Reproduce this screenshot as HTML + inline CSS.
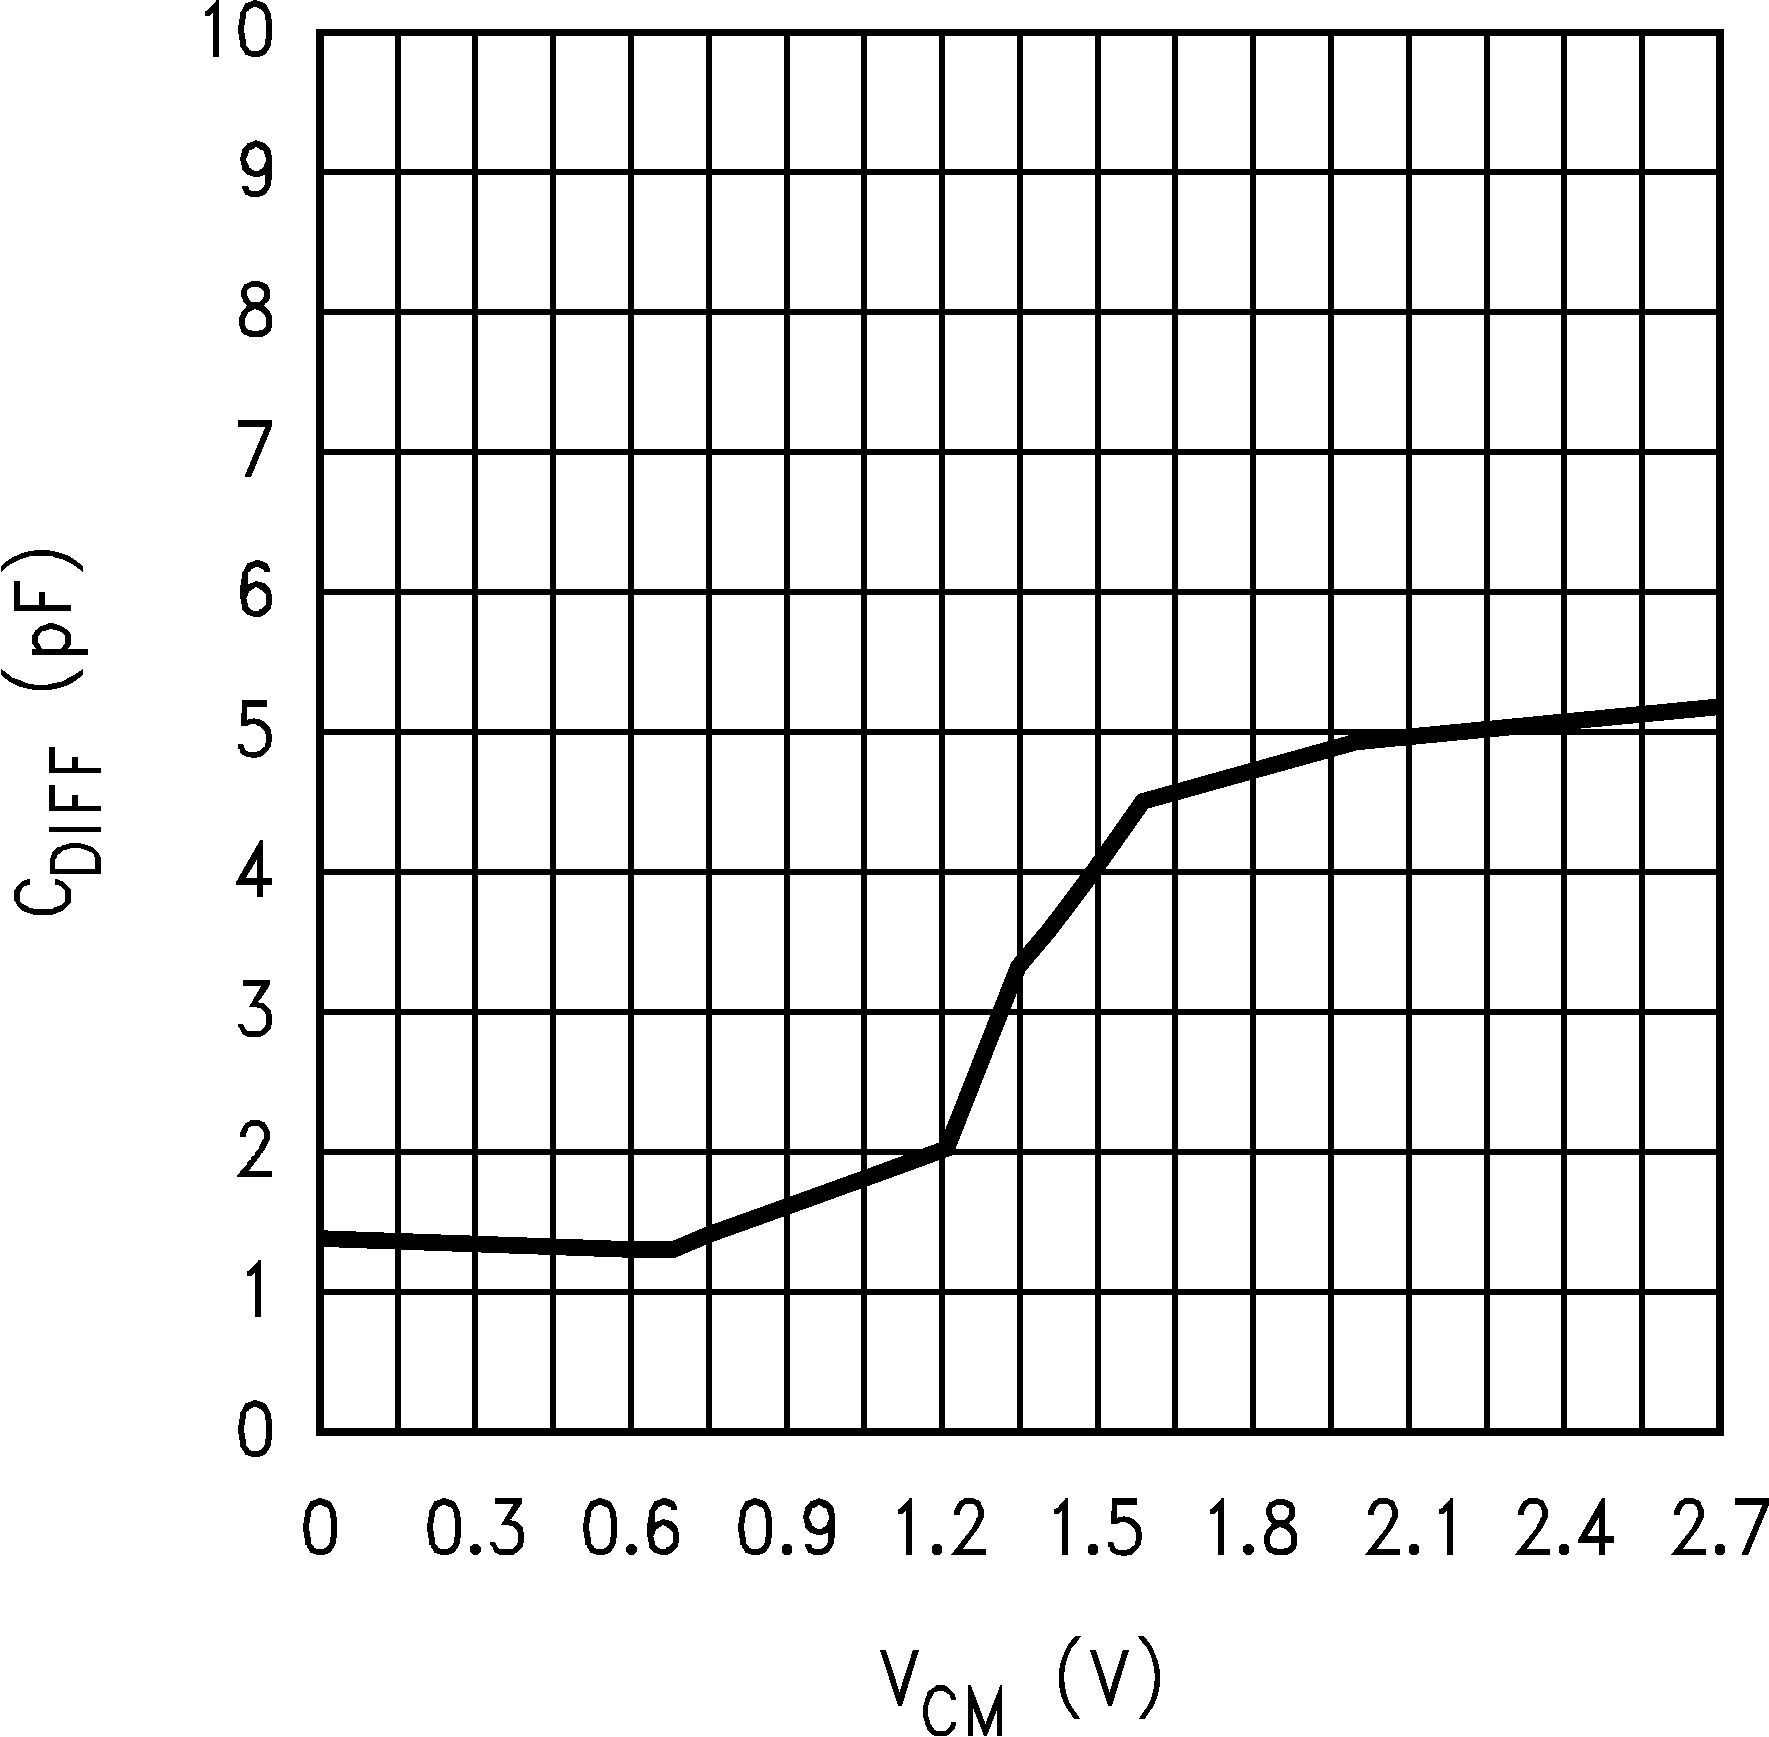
<!DOCTYPE html>
<html><head><meta charset="utf-8"><title>C_DIFF vs V_CM</title>
<style>html,body{margin:0;padding:0;background:#fff;font-family:"Liberation Sans",sans-serif}svg{display:block}</style>
</head><body>
<svg width="1769" height="1737" viewBox="0 0 1769 1737" shape-rendering="crispEdges">
<rect width="1769" height="1737" fill="#fff"/>
<g fill="#000"><rect x="395" y="30" width="6" height="1404"/><rect x="472" y="30" width="6" height="1404"/><rect x="550" y="30" width="6" height="1404"/><rect x="628" y="30" width="6" height="1404"/><rect x="706" y="30" width="6" height="1404"/><rect x="784" y="30" width="6" height="1404"/><rect x="861" y="30" width="6" height="1404"/><rect x="939" y="30" width="6" height="1404"/><rect x="1017" y="30" width="6" height="1404"/><rect x="1095" y="30" width="6" height="1404"/><rect x="1172" y="30" width="6" height="1404"/><rect x="1250" y="30" width="6" height="1404"/><rect x="1328" y="30" width="6" height="1404"/><rect x="1406" y="30" width="6" height="1404"/><rect x="1484" y="30" width="6" height="1404"/><rect x="1561" y="30" width="6" height="1404"/><rect x="1639" y="30" width="6" height="1404"/><rect x="318" y="169" width="1404" height="6"/><rect x="318" y="309" width="1404" height="6"/><rect x="318" y="449" width="1404" height="6"/><rect x="318" y="589" width="1404" height="6"/><rect x="318" y="729" width="1404" height="6"/><rect x="318" y="869" width="1404" height="6"/><rect x="318" y="1009" width="1404" height="6"/><rect x="318" y="1149" width="1404" height="6"/><rect x="318" y="1289" width="1404" height="6"/><rect x="316" y="29" width="1408" height="7"/><rect x="316" y="1428" width="1408" height="8"/><rect x="316" y="29" width="8" height="1407"/><rect x="1716" y="29" width="8" height="1407"/></g>
<polyline fill="none" stroke="#000" stroke-width="16.6" stroke-linejoin="miter" stroke-linecap="butt" points="319,1238.5 631,1249.5 673.5,1249.5 709,1234.5 784.1,1207.6 860.9,1179.85 946.7,1148.6 1018.5,966.5 1049.5,930 1092.8,872.5 1142.9,801.4 1356,742 1721,706.6"/>
<g fill="none" stroke="#000" stroke-linecap="square" stroke-linejoin="miter" stroke-miterlimit="2.6"></g>
<g transform="scale(0.83,1)" fill="none" stroke="#000" stroke-linecap="square" stroke-linejoin="miter" stroke-miterlimit="2.6"></g>
<g fill="#000"><polygon points="1075.2,1636 1072.05,1639.8 1068.9,1643.7 1066.9,1647.3 1064.1,1653.2 1062.2,1658 1061,1661.2 1059.9,1665.5 1059,1671.4 1058.8,1683.3 1059.8,1689.6 1061,1695.2 1062.2,1698.3 1064.1,1703.1 1066.1,1707.1 1069.7,1712.2 1074,1718.9 1080.1,1718.9 1076,1712.6 1072.05,1707.1 1068.9,1701.5 1066.9,1695.2 1065.2,1688.1 1063.9,1677 1065.2,1666.7 1066.9,1659.6 1068.9,1654 1072.05,1647.3 1076.8,1642.2 1081.15,1636"/><polygon points="1143.7,1636 1146.85,1639.8 1150,1643.7 1152,1647.3 1154.8,1653.2 1156.7,1658 1157.9,1661.2 1159,1665.5 1159.9,1671.4 1160.1,1683.3 1159.1,1689.6 1157.9,1695.2 1156.7,1698.3 1154.8,1703.1 1152.8,1707.1 1149.2,1712.2 1144.9,1718.9 1138.8,1718.9 1142.9,1712.6 1146.85,1707.1 1150,1701.5 1152,1695.2 1153.7,1688.1 1155,1677 1153.7,1666.7 1152,1659.6 1150,1654 1146.85,1647.3 1142.1,1642.2 1137.75,1636"/><polygon points="0.86,566.2 4.3,563 11.2,558.1 20.1,553.8 26.2,552 31.4,550.8 39.1,549.9 44,549.9 52.7,550.8 57,552 66.8,555 72.5,558.1 76.6,561 83.07,566.2 83.07,573.1 82,571.4 77.1,567.6 72.8,564.2 67.9,562.2 61.9,559 56.1,557.8 50.7,555.7 33.4,555.7 28.2,556.7 21.3,558.9 14.1,562.2 8.6,565.6 3.5,569.6 0.86,573.1"/><polygon points="0.86,674.8 4,677.4 11.2,682.9 20.1,686.9 28.2,688.9 33.4,689.8 50.7,689.8 55.8,688.9 63.6,686.9 72.5,682.9 76.6,680 83.07,674.8 83.07,668.8 74.3,674.8 68.2,678 61.9,681.7 54.1,682.9 46.1,684.9 36,684.9 29.9,683.8 25.3,682.9 19,679.7 12.1,677.7 5.8,672 0.86,668.8"/></g>
<g fill="none" stroke="#000" stroke-linecap="square" stroke-linejoin="miter" stroke-miterlimit="2.6"></g>
<g transform="scale(1,0.82)" fill="none" stroke="#000" stroke-linecap="square" stroke-linejoin="miter" stroke-miterlimit="2.6"></g>
<g fill="#000"><path fill-rule="evenodd" d="M253.03 1400.02 L256.88 1400.02 L256.88 1400.98 L259.78 1400.98 L259.97 1401.94 L262.86 1401.94 L263.06 1402.91 L264.79 1403.1 L266.92 1405.22 L267.11 1406.96 L268.07 1407.15 L268.07 1409.08 L269.04 1409.27 L269.04 1411.01 L270 1411.2 L270 1413.13 L270.97 1413.33 L270.97 1418.92 L271.93 1419.11 L271.93 1439.95 L270.97 1439.95 L270.97 1445.73 L270 1445.93 L270 1447.85 L269.04 1447.85 L269.04 1449.78 L268.07 1449.78 L266.92 1451.91 L266.92 1452.87 L265.95 1452.87 L264.79 1454.8 L262.86 1454.99 L262.86 1455.96 L259.78 1455.96 L259.78 1456.92 L251.1 1456.92 L251.1 1455.96 L248.01 1455.96 L248.01 1454.99 L245.12 1454.99 L245.12 1452.87 L244.15 1452.87 L243.96 1450.94 L242.03 1449.78 L242.03 1447.85 L240.1 1446.7 L240.1 1439.95 L239.14 1439.75 L239.14 1433.77 L237.98 1433.77 L237.98 1425.09 L239.14 1424.9 L239.14 1419.11 L240.1 1418.92 L240.1 1412.17 L242.03 1411.01 L242.03 1409.08 L243 1408.89 L243 1407.15 L243.96 1406.96 L244.15 1405.03 L245.12 1404.84 L245.12 1403.1 L248.01 1402.91 L248.2 1401.94 L251.1 1401.94 L251.1 1400.98 L253.03 1400.98Z M253.03 1406.96 L256.88 1406.96 L257.08 1407.92 L259.01 1408.12 L259.01 1408.89 L260.94 1409.08 L264.02 1412.17 L264.02 1413.9 L264.99 1414.1 L264.99 1419.69 L266.14 1420.08 L266.14 1438.98 L265.18 1439.17 L264.99 1444.77 L264.02 1444.96 L264.02 1446.7 L260.94 1449.78 L259.01 1449.98 L258.81 1450.94 L251.1 1450.94 L250.9 1449.98 L248.98 1449.78 L248.98 1448.82 L245.89 1445.73 L245.89 1438.98 L244.92 1438.79 L244.92 1433.39 L243.96 1433.19 L243.96 1424.9 L244.92 1424.71 L244.92 1418.92 L245.89 1418.73 L245.89 1413.13 L248.98 1410.05 L248.98 1408.89 L250.9 1408.7 L251.1 1407.92 L253.03 1407.92Z"/><path fill-rule="evenodd" d="M258 1259.96 L261 1259.96 L261 1316.96 L255 1316.96 L255 1272.66 L252.8 1274.86 L250.8 1275.96 L246.95 1275.96 L246.95 1270.96 L248.9 1270.96 L251 1268.96 L258 1261.16Z"/><path fill-rule="evenodd" d="M240.1 1136.99 L240.1 1132.17 L241.07 1131.98 L241.07 1130.05 L242.03 1129.85 L242.03 1128.12 L243 1127.92 L243 1126.19 L244.92 1124.45 L245.12 1123.1 L247.05 1122.91 L247.24 1121.94 L248.98 1121.94 L250.13 1120.02 L259.78 1120.02 L259.97 1120.98 L261.9 1120.98 L262.09 1121.94 L264.02 1121.94 L266.92 1125.22 L267.11 1126.96 L268.07 1127.15 L268.07 1129.08 L269.04 1129.27 L269.04 1131.01 L270 1131.2 L270 1139.69 L269.04 1139.88 L269.04 1141.81 L268.07 1142.01 L268.07 1143.74 L267.11 1143.94 L266.92 1145.86 L265.95 1146.06 L265.95 1147.79 L264.99 1147.99 L264.99 1149.72 L262.86 1150.88 L262.86 1152.81 L260.94 1153.77 L259.78 1155.9 L259.78 1156.86 L256.88 1158.98 L256.88 1160.91 L254.18 1162.84 L253.99 1164.77 L251.1 1166.89 L250.9 1168.82 L248.78 1170.94 L271.93 1170.94 L271.93 1176.92 L237.02 1176.92 L237.02 1175.96 L239.91 1172.87 L240.1 1171.91 L243.96 1167.85 L244.15 1166.89 L247.05 1164 L247.05 1162.84 L251.1 1158.98 L251.1 1157.82 L255.15 1153.97 L255.15 1152.81 L258.04 1149.92 L258.23 1148.95 L259.01 1147.99 L259.2 1146.64 L259.97 1145.86 L260.16 1144.71 L260.94 1143.94 L261.13 1142.78 L261.9 1142.01 L262.09 1140.66 L263.06 1139.69 L263.06 1138.73 L264.02 1138.53 L264.02 1131.98 L263.06 1131.78 L262.86 1130.05 L258.81 1126 L251.1 1126 L247.82 1129.08 L247.82 1130.82 L246.85 1131.01 L246.85 1132.94 L245.89 1133.13 L245.89 1136.99Z"/><path fill-rule="evenodd" d="M243 980.02 L270 980.02 L270 984.45 L268.07 987.73 L265.95 990.82 L264.02 993.9 L261.9 996.99 L259.97 1000.08 L257.85 1001.62 L259.97 1002.78 L262.86 1002.97 L264.79 1003.94 L270.97 1010.11 L271.16 1013.97 L271.93 1014.35 L271.93 1024.77 L270.97 1024.96 L270.97 1028.63 L264.79 1034.8 L262.86 1035.76 L260.74 1036.92 L248.2 1036.92 L246.08 1035.96 L243.19 1034.8 L241.07 1031.71 L240.1 1028.82 L237.98 1026.7 L237.98 1024 L242.8 1024 L243.77 1025.15 L244.73 1027.85 L247.24 1030.94 L260.74 1030.94 L265.18 1026.7 L265.18 1024.77 L266.14 1024.38 L266.14 1014.16 L265.18 1013.77 L264.79 1012.04 L260.74 1007.99 L257.08 1007.99 L256.69 1006.83 L248.98 1006.83 L250.13 1004.32 L252.06 1002.01 L253.22 999.11 L255.15 996.6 L257.08 993.13 L258.23 991.2 L260.16 988.12 L261.13 986 L243 986Z"/><path fill-rule="evenodd" d="M260.1 839.98 L263 839.98 L263 878.03 L272.1 878.03 L272.1 884.94 L263 884.94 L263 896.86 L257 896.86 L257 884.94 L235.95 884.94 L235.95 882.46Z M257 859.7 L257 878.03 L245.6 878.03Z"/><path fill-rule="evenodd" d="M242.03 700.02 L266.92 700.02 L266.92 706.96 L246.85 706.96 L246.85 720.27 L248.2 719.11 L253.03 719.11 L253.03 717.96 L254.96 717.96 L254.96 719.11 L258.81 719.11 L260.74 720.08 L262.86 720.85 L264.99 722.01 L265.95 723.74 L268.07 724.9 L269.23 727.02 L270.19 727.99 L270.97 730.11 L271.16 733.97 L271.93 734.35 L271.93 741.88 L270.97 742.07 L270.97 746.7 L269.04 747.85 L268.84 749.78 L262.86 755.76 L260.74 756.92 L256.88 757.11 L256.88 757.89 L251.1 757.89 L251.1 756.92 L247.24 756.92 L245.12 755.96 L243.19 754.99 L241.07 754.03 L240.1 752.87 L240.1 749.78 L237.98 748.63 L237.98 744 L242.8 744 L243.77 745.15 L243.77 747.85 L244.92 748.43 L245.12 749.78 L247.05 750.94 L248.98 752.1 L256.88 752.1 L257.08 750.94 L259.78 750.94 L265.18 745.93 L265.18 742.84 L266.14 742.65 L266.14 734.16 L265.18 733.77 L264.99 731.07 L262.86 729.34 L259.78 725.86 L258.23 725.86 L255.92 724.9 L255.92 723.74 L250.13 723.74 L249.94 724.9 L248.01 724.9 L247.82 725.86 L241.07 725.86 L241.07 712.94 L242.03 712.94Z"/><path fill-rule="evenodd" d="M270 571.78 L270 568.31 L269.04 568.12 L269.04 566.19 L268.07 566 L268.07 564.26 L266.92 564.07 L266.92 563.1 L264.99 562.91 L264.79 561.94 L262.86 561.94 L262.67 560.98 L259.78 560.98 L259.78 560.02 L255.15 560.02 L255.15 560.98 L253.03 560.98 L253.03 561.94 L250.13 561.94 L249.94 563.1 L247.05 563.1 L247.05 565.03 L246.08 565.22 L246.08 567.15 L245.12 567.15 L244.92 569.08 L244.15 569.08 L243.96 571.01 L243 571.2 L242.03 572.17 L242.03 578.92 L241.07 579.11 L241.07 584.9 L240.1 585.09 L240.1 598.79 L241.07 598.98 L241.07 603.8 L242.03 604 L242.03 609.78 L247.05 614.8 L249.94 614.99 L250.13 615.96 L253.03 615.96 L253.22 616.92 L260.74 616.92 L260.94 615.96 L262.86 615.76 L262.86 614.99 L264.79 614.8 L270.97 608.63 L270.97 604.96 L271.93 604.77 L271.93 594.35 L270.97 594.16 L270.97 590.11 L270 589.92 L270 588.18 L264.79 582.97 L261.9 582.78 L261.71 582.01 L257.85 581.81 L257.85 580.85 L255.15 580.85 L254.96 581.81 L253.03 582.01 L253.03 582.97 L250.13 582.97 L249.94 583.94 L247.82 583.94 L247.82 573.13 L248.98 571.98 L249.94 571.78 L250.9 570.82 L250.9 569.08 L253.03 568.89 L253.03 567.92 L254.96 567.73 L255.15 566.96 L258.81 566.96 L259.01 567.92 L260.94 568.12 L261.13 568.89 L262.86 569.08 L264.02 570.05 L264.02 571.78Z M255.92 586.83 L257.08 587.02 L257.08 587.99 L258.81 588.18 L259.78 588.95 L259.97 589.92 L261.9 590.11 L266.14 594.35 L266.14 604.77 L261.9 608.82 L259.97 609.01 L258.81 609.98 L258.81 610.94 L253.22 610.94 L253.03 609.98 L251.1 609.78 L248.01 606.7 L248.01 603.03 L247.05 602.84 L246.85 598.98 L245.89 598.79 L245.89 597.82 L246.85 597.63 L247.05 595.9 L247.82 595.7 L248.01 593 L248.98 592.81 L248.98 591.07 L250.9 590.88 L252.06 588.95 L253.99 588.76 L255.15 586.83Z"/><path fill-rule="evenodd" d="M238 420 L272.1 420 L272.1 426 L251.1 476.86 L244.9 476.86 L244.9 475.6 L265.3 426.9 L238 426.9Z"/><path fill-rule="evenodd" d="M251.1 280.98 L259.78 280.98 L259.97 281.94 L262.86 281.94 L263.06 282.91 L264.99 283.1 L265.18 284.07 L266.92 284.07 L268.07 285.22 L268.07 286.96 L269.04 287.15 L269.04 289.08 L270 289.27 L270 298.73 L269.04 298.92 L269.04 300.66 L267.88 300.85 L266.92 302.78 L265.95 302.78 L263.83 305.48 L270 311.27 L270 313.19 L270.97 313.39 L270.97 315.12 L271.93 315.32 L271.93 327.66 L270.97 327.85 L270.97 330.75 L266.92 334.8 L264.99 334.99 L264.99 335.96 L262.86 335.96 L262.86 336.92 L249.17 336.92 L248.98 335.96 L247.05 335.96 L246.85 334.99 L244.15 334.99 L241.07 331.71 L241.07 329.01 L240.1 328.82 L240.1 325.93 L239.14 325.73 L239.14 317.05 L240.1 316.86 L240.1 315.12 L241.07 314.93 L241.07 312.23 L245.89 307.79 L246.08 306.06 L247.05 305.48 L243 301.81 L243 298.92 L242.03 298.73 L242.03 296.99 L241.07 296.8 L241.07 290.05 L242.03 289.85 L242.03 288.12 L243 287.92 L243 286.19 L243.96 286 L244.15 284.07 L247.05 284.07 L247.05 283.1 L248.98 282.91 L249.17 281.94 L251.1 281.94Z M251.1 286.96 L258.81 286.96 L259.01 287.92 L260.94 288.12 L264.02 291.01 L264.02 296.99 L263.06 297.18 L262.86 298.92 L259.78 301.81 L251.1 301.81 L248.98 299.69 L248.98 298.15 L248.01 297.96 L247.82 296.03 L246.85 295.83 L246.85 291.01 L250.13 287.92 L251.1 287.92Z M253.99 308.95 L255.92 308.95 L256.11 309.92 L258.81 309.92 L259.01 310.88 L260.94 311.07 L264.99 315.12 L265.18 316.86 L266.14 317.05 L266.14 326.7 L262.86 329.98 L259.01 329.98 L258.81 330.94 L252.06 330.94 L252.06 329.98 L248.01 329.98 L245.89 327.66 L245.89 326.7 L244.92 325.73 L244.92 317.82 L245.89 317.63 L246.08 315.9 L246.85 315.7 L247.05 313.97 L247.82 313.77 L248.01 312.04 L249.94 311.84 L250.13 310.88 L252.06 310.88 L252.25 309.92 L253.99 309.92Z"/><path fill-rule="evenodd" d="M254.96 140.02 L256.88 140.02 L256.88 140.98 L259.78 140.98 L259.97 141.94 L262.86 141.94 L262.86 142.91 L264.79 143.1 L270 148.31 L270 150.05 L270.97 150.24 L270.97 154.87 L271.93 155.06 L271.93 179.75 L270.97 179.95 L270.97 185.73 L270 185.93 L270 187.85 L269.04 187.85 L269.04 189.78 L268.07 189.78 L266.92 191.91 L266.92 192.87 L265.95 192.87 L264.79 194.8 L262.86 194.99 L262.86 195.96 L259.78 195.96 L259.78 196.92 L250.13 196.92 L250.13 195.96 L248.01 195.96 L248.01 194.99 L245.12 194.99 L245.12 192.87 L244.15 192.87 L243.96 190.94 L243 190.75 L243 189.01 L242.03 188.82 L242.03 185.93 L247.82 185.93 L248.98 187.08 L248.98 189.78 L250.9 189.98 L251.1 190.94 L258.81 190.94 L259.01 189.98 L260.94 189.78 L264.02 186.7 L264.02 184.96 L264.99 184.77 L264.99 174.74 L262.86 174.74 L262.86 175.7 L259.97 175.9 L259.78 176.86 L253.22 176.86 L253.03 175.9 L250.13 175.7 L249.94 174.93 L247.24 174.74 L242.03 169.72 L242.03 164.9 L241.07 164.9 L241.07 160.85 L240.1 160.66 L240.1 156.99 L241.07 156.8 L241.07 153.13 L242.03 152.94 L242.03 149.27 L247.05 144.45 L247.05 143.1 L249.94 142.91 L250.13 141.94 L253.03 141.94 L253.03 140.98 L254.96 140.98Z M255.92 146.77 L257.08 146.96 L257.08 147.92 L258.81 148.12 L259.97 149.85 L262.86 150.05 L264.02 151.01 L264.02 153.9 L264.99 154.1 L265.18 156.99 L266.14 157.18 L266.14 161.81 L265.18 162.01 L264.99 163.94 L264.02 164.13 L264.02 166.83 L261.9 168.95 L259.97 169.14 L258.81 170.11 L258.81 171.07 L254.18 171.07 L253.99 170.11 L252.06 169.92 L250.9 168.18 L248.98 167.99 L248.98 165.09 L248.01 164.9 L247.82 163.16 L246.85 162.97 L246.85 161.04 L245.89 160.85 L245.89 157.96 L246.85 157.76 L246.85 156.03 L247.82 155.83 L248.01 152.94 L248.98 152.75 L248.98 149.85 L252.06 149.85 L252.06 148.89 L253.99 148.7 L254.96 146.96Z"/><path fill-rule="evenodd" d="M216 -0.04 L219 -0.04 L219 56.96 L213 56.96 L213 12.66 L210.8 14.86 L208.8 15.96 L204.95 15.96 L204.95 10.96 L206.9 10.96 L209 8.96 L216 1.16Z"/><path fill-rule="evenodd" d="M253.03 0.02 L256.88 0.02 L256.88 0.98 L259.78 0.98 L259.97 1.94 L262.86 1.94 L263.06 2.91 L264.79 3.1 L266.92 5.22 L267.11 6.96 L268.07 7.15 L268.07 9.08 L269.04 9.27 L269.04 11.01 L270 11.2 L270 13.13 L270.97 13.33 L270.97 18.92 L271.93 19.11 L271.93 39.95 L270.97 39.95 L270.97 45.73 L270 45.93 L270 47.85 L269.04 47.85 L269.04 49.78 L268.07 49.78 L266.92 51.91 L266.92 52.87 L265.95 52.87 L264.79 54.8 L262.86 54.99 L262.86 55.96 L259.78 55.96 L259.78 56.92 L251.1 56.92 L251.1 55.96 L248.01 55.96 L248.01 54.99 L245.12 54.99 L245.12 52.87 L244.15 52.87 L243.96 50.94 L242.03 49.78 L242.03 47.85 L240.1 46.7 L240.1 39.95 L239.14 39.75 L239.14 33.77 L237.98 33.77 L237.98 25.09 L239.14 24.9 L239.14 19.11 L240.1 18.92 L240.1 12.17 L242.03 11.01 L242.03 9.08 L243 8.89 L243 7.15 L243.96 6.96 L244.15 5.03 L245.12 4.84 L245.12 3.1 L248.01 2.91 L248.2 1.94 L251.1 1.94 L251.1 0.98 L253.03 0.98Z M253.03 6.96 L256.88 6.96 L257.08 7.92 L259.01 8.12 L259.01 8.89 L260.94 9.08 L264.02 12.17 L264.02 13.9 L264.99 14.1 L264.99 19.69 L266.14 20.08 L266.14 38.98 L265.18 39.17 L264.99 44.77 L264.02 44.96 L264.02 46.7 L260.94 49.78 L259.01 49.98 L258.81 50.94 L251.1 50.94 L250.9 49.98 L248.98 49.78 L248.98 48.82 L245.89 45.73 L245.89 38.98 L244.92 38.79 L244.92 33.39 L243.96 33.19 L243.96 24.9 L244.92 24.71 L244.92 18.92 L245.89 18.73 L245.89 13.13 L248.98 10.05 L248.98 8.89 L250.9 8.7 L251.1 7.92 L253.03 7.92Z"/><path fill-rule="evenodd" d="M318.2 1498 L322.05 1498 L322.05 1498.96 L324.95 1498.96 L325.14 1499.92 L328.03 1499.92 L328.23 1500.89 L329.96 1501.08 L332.08 1503.2 L332.28 1504.94 L333.24 1505.13 L333.24 1507.06 L334.21 1507.25 L334.21 1508.99 L335.17 1509.18 L335.17 1511.11 L336.14 1511.31 L336.14 1516.9 L337.1 1517.09 L337.1 1537.93 L336.14 1537.93 L336.14 1543.71 L335.17 1543.91 L335.17 1545.83 L334.21 1545.83 L334.21 1547.76 L333.24 1547.76 L332.08 1549.89 L332.08 1550.85 L331.12 1550.85 L329.96 1552.78 L328.03 1552.97 L328.03 1553.94 L324.95 1553.94 L324.95 1554.9 L316.27 1554.9 L316.27 1553.94 L313.18 1553.94 L313.18 1552.97 L310.29 1552.97 L310.29 1550.85 L309.32 1550.85 L309.13 1548.92 L307.2 1547.76 L307.2 1545.83 L305.27 1544.68 L305.27 1537.93 L304.31 1537.73 L304.31 1531.75 L303.15 1531.75 L303.15 1523.07 L304.31 1522.88 L304.31 1517.09 L305.27 1516.9 L305.27 1510.15 L307.2 1508.99 L307.2 1507.06 L308.16 1506.87 L308.16 1505.13 L309.13 1504.94 L309.32 1503.01 L310.29 1502.82 L310.29 1501.08 L313.18 1500.89 L313.37 1499.92 L316.27 1499.92 L316.27 1498.96 L318.2 1498.96Z M318.2 1504.94 L322.05 1504.94 L322.25 1505.9 L324.18 1506.1 L324.18 1506.87 L326.1 1507.06 L329.19 1510.15 L329.19 1511.88 L330.16 1512.08 L330.16 1517.67 L331.31 1518.06 L331.31 1536.96 L330.35 1537.15 L330.16 1542.75 L329.19 1542.94 L329.19 1544.68 L326.1 1547.76 L324.18 1547.96 L323.98 1548.92 L316.27 1548.92 L316.07 1547.96 L314.14 1547.76 L314.14 1546.8 L311.06 1543.71 L311.06 1536.96 L310.09 1536.77 L310.09 1531.37 L309.13 1531.17 L309.13 1522.88 L310.09 1522.69 L310.09 1516.9 L311.06 1516.71 L311.06 1511.11 L314.14 1508.03 L314.14 1506.87 L316.07 1506.68 L316.27 1505.9 L318.2 1505.9Z"/><path fill-rule="evenodd" d="M442.2 1498 L446.05 1498 L446.05 1498.96 L448.95 1498.96 L449.14 1499.92 L452.03 1499.92 L452.23 1500.89 L453.96 1501.08 L456.08 1503.2 L456.28 1504.94 L457.24 1505.13 L457.24 1507.06 L458.21 1507.25 L458.21 1508.99 L459.17 1509.18 L459.17 1511.11 L460.14 1511.31 L460.14 1516.9 L461.1 1517.09 L461.1 1537.93 L460.14 1537.93 L460.14 1543.71 L459.17 1543.91 L459.17 1545.83 L458.21 1545.83 L458.21 1547.76 L457.24 1547.76 L456.08 1549.89 L456.08 1550.85 L455.12 1550.85 L453.96 1552.78 L452.03 1552.97 L452.03 1553.94 L448.95 1553.94 L448.95 1554.9 L440.27 1554.9 L440.27 1553.94 L437.18 1553.94 L437.18 1552.97 L434.29 1552.97 L434.29 1550.85 L433.32 1550.85 L433.13 1548.92 L431.2 1547.76 L431.2 1545.83 L429.27 1544.68 L429.27 1537.93 L428.31 1537.73 L428.31 1531.75 L427.15 1531.75 L427.15 1523.07 L428.31 1522.88 L428.31 1517.09 L429.27 1516.9 L429.27 1510.15 L431.2 1508.99 L431.2 1507.06 L432.16 1506.87 L432.16 1505.13 L433.13 1504.94 L433.32 1503.01 L434.29 1502.82 L434.29 1501.08 L437.18 1500.89 L437.37 1499.92 L440.27 1499.92 L440.27 1498.96 L442.2 1498.96Z M442.2 1504.94 L446.05 1504.94 L446.25 1505.9 L448.18 1506.1 L448.18 1506.87 L450.1 1507.06 L453.19 1510.15 L453.19 1511.88 L454.16 1512.08 L454.16 1517.67 L455.31 1518.06 L455.31 1536.96 L454.35 1537.15 L454.16 1542.75 L453.19 1542.94 L453.19 1544.68 L450.1 1547.76 L448.18 1547.96 L447.98 1548.92 L440.27 1548.92 L440.07 1547.96 L438.14 1547.76 L438.14 1546.8 L435.06 1543.71 L435.06 1536.96 L434.09 1536.77 L434.09 1531.37 L433.13 1531.17 L433.13 1522.88 L434.09 1522.69 L434.09 1516.9 L435.06 1516.71 L435.06 1511.11 L438.14 1508.03 L438.14 1506.87 L440.07 1506.68 L440.27 1505.9 L442.2 1505.9Z"/><path fill-rule="evenodd" d="M473.2 1543.95 L477.6 1543.95 L480.7 1546.88 L480.7 1552.07 L477.6 1555 L473.2 1555 L470.1 1552.07 L470.1 1546.88Z"/><path fill-rule="evenodd" d="M495.16 1498 L522.17 1498 L522.17 1502.43 L520.24 1505.71 L518.12 1508.8 L516.19 1511.88 L514.07 1514.97 L512.14 1518.06 L510.02 1519.6 L512.14 1520.76 L515.03 1520.95 L516.96 1521.92 L523.14 1528.09 L523.33 1531.95 L524.1 1532.33 L524.1 1542.75 L523.14 1542.94 L523.14 1546.61 L516.96 1552.78 L515.03 1553.74 L512.91 1554.9 L500.37 1554.9 L498.25 1553.94 L495.36 1552.78 L493.24 1549.69 L492.27 1546.8 L490.15 1544.68 L490.15 1541.98 L494.97 1541.98 L495.94 1543.13 L496.9 1545.83 L499.41 1548.92 L512.91 1548.92 L517.35 1544.68 L517.35 1542.75 L518.31 1542.36 L518.31 1532.14 L517.35 1531.75 L516.96 1530.02 L512.91 1525.97 L509.25 1525.97 L508.86 1524.81 L501.14 1524.81 L502.3 1522.3 L504.23 1519.99 L505.39 1517.09 L507.32 1514.58 L509.25 1511.11 L510.4 1509.18 L512.33 1506.1 L513.3 1503.98 L495.16 1503.98Z"/><path fill-rule="evenodd" d="M598.2 1498 L602.05 1498 L602.05 1498.96 L604.95 1498.96 L605.14 1499.92 L608.03 1499.92 L608.23 1500.89 L609.96 1501.08 L612.08 1503.2 L612.28 1504.94 L613.24 1505.13 L613.24 1507.06 L614.21 1507.25 L614.21 1508.99 L615.17 1509.18 L615.17 1511.11 L616.14 1511.31 L616.14 1516.9 L617.1 1517.09 L617.1 1537.93 L616.14 1537.93 L616.14 1543.71 L615.17 1543.91 L615.17 1545.83 L614.21 1545.83 L614.21 1547.76 L613.24 1547.76 L612.08 1549.89 L612.08 1550.85 L611.12 1550.85 L609.96 1552.78 L608.03 1552.97 L608.03 1553.94 L604.95 1553.94 L604.95 1554.9 L596.27 1554.9 L596.27 1553.94 L593.18 1553.94 L593.18 1552.97 L590.29 1552.97 L590.29 1550.85 L589.32 1550.85 L589.13 1548.92 L587.2 1547.76 L587.2 1545.83 L585.27 1544.68 L585.27 1537.93 L584.31 1537.73 L584.31 1531.75 L583.15 1531.75 L583.15 1523.07 L584.31 1522.88 L584.31 1517.09 L585.27 1516.9 L585.27 1510.15 L587.2 1508.99 L587.2 1507.06 L588.16 1506.87 L588.16 1505.13 L589.13 1504.94 L589.32 1503.01 L590.29 1502.82 L590.29 1501.08 L593.18 1500.89 L593.37 1499.92 L596.27 1499.92 L596.27 1498.96 L598.2 1498.96Z M598.2 1504.94 L602.05 1504.94 L602.25 1505.9 L604.18 1506.1 L604.18 1506.87 L606.1 1507.06 L609.19 1510.15 L609.19 1511.88 L610.16 1512.08 L610.16 1517.67 L611.31 1518.06 L611.31 1536.96 L610.35 1537.15 L610.16 1542.75 L609.19 1542.94 L609.19 1544.68 L606.1 1547.76 L604.18 1547.96 L603.98 1548.92 L596.27 1548.92 L596.07 1547.96 L594.14 1547.76 L594.14 1546.8 L591.06 1543.71 L591.06 1536.96 L590.09 1536.77 L590.09 1531.37 L589.13 1531.17 L589.13 1522.88 L590.09 1522.69 L590.09 1516.9 L591.06 1516.71 L591.06 1511.11 L594.14 1508.03 L594.14 1506.87 L596.07 1506.68 L596.27 1505.9 L598.2 1505.9Z"/><path fill-rule="evenodd" d="M629.35 1543.95 L633.75 1543.95 L636.85 1546.88 L636.85 1552.07 L633.75 1555 L629.35 1555 L626.25 1552.07 L626.25 1546.88Z"/><path fill-rule="evenodd" d="M677.12 1509.76 L677.12 1506.29 L676.16 1506.1 L676.16 1504.17 L675.19 1503.98 L675.19 1502.24 L674.03 1502.05 L674.03 1501.08 L672.11 1500.89 L671.91 1499.92 L669.98 1499.92 L669.79 1498.96 L666.9 1498.96 L666.9 1498 L662.27 1498 L662.27 1498.96 L660.15 1498.96 L660.15 1499.92 L657.25 1499.92 L657.06 1501.08 L654.17 1501.08 L654.17 1503.01 L653.2 1503.2 L653.2 1505.13 L652.24 1505.13 L652.04 1507.06 L651.27 1507.06 L651.08 1508.99 L650.11 1509.18 L649.15 1510.15 L649.15 1516.9 L648.19 1517.09 L648.19 1522.88 L647.22 1523.07 L647.22 1536.77 L648.19 1536.96 L648.19 1541.78 L649.15 1541.98 L649.15 1547.76 L654.17 1552.78 L657.06 1552.97 L657.25 1553.94 L660.15 1553.94 L660.34 1554.9 L667.86 1554.9 L668.05 1553.94 L669.98 1553.74 L669.98 1552.97 L671.91 1552.78 L678.09 1546.61 L678.09 1542.94 L679.05 1542.75 L679.05 1532.33 L678.09 1532.14 L678.09 1528.09 L677.12 1527.9 L677.12 1526.16 L671.91 1520.95 L669.02 1520.76 L668.83 1519.99 L664.97 1519.79 L664.97 1518.83 L662.27 1518.83 L662.07 1519.79 L660.15 1519.99 L660.15 1520.95 L657.25 1520.95 L657.06 1521.92 L654.94 1521.92 L654.94 1511.11 L656.09 1509.96 L657.06 1509.76 L658.02 1508.8 L658.02 1507.06 L660.15 1506.87 L660.15 1505.9 L662.07 1505.71 L662.27 1504.94 L665.93 1504.94 L666.13 1505.9 L668.05 1506.1 L668.25 1506.87 L669.98 1507.06 L671.14 1508.03 L671.14 1509.76Z M663.04 1524.81 L664.2 1525 L664.2 1525.97 L665.93 1526.16 L666.9 1526.93 L667.09 1527.9 L669.02 1528.09 L673.26 1532.33 L673.26 1542.75 L669.02 1546.8 L667.09 1546.99 L665.93 1547.96 L665.93 1548.92 L660.34 1548.92 L660.15 1547.96 L658.22 1547.76 L655.13 1544.68 L655.13 1541.01 L654.17 1540.82 L653.97 1536.96 L653.01 1536.77 L653.01 1535.8 L653.97 1535.61 L654.17 1533.88 L654.94 1533.68 L655.13 1530.98 L656.09 1530.79 L656.09 1529.05 L658.02 1528.86 L659.18 1526.93 L661.11 1526.74 L662.27 1524.81Z"/><path fill-rule="evenodd" d="M753.2 1498 L757.05 1498 L757.05 1498.96 L759.95 1498.96 L760.14 1499.92 L763.03 1499.92 L763.23 1500.89 L764.96 1501.08 L767.08 1503.2 L767.28 1504.94 L768.24 1505.13 L768.24 1507.06 L769.21 1507.25 L769.21 1508.99 L770.17 1509.18 L770.17 1511.11 L771.14 1511.31 L771.14 1516.9 L772.1 1517.09 L772.1 1537.93 L771.14 1537.93 L771.14 1543.71 L770.17 1543.91 L770.17 1545.83 L769.21 1545.83 L769.21 1547.76 L768.24 1547.76 L767.08 1549.89 L767.08 1550.85 L766.12 1550.85 L764.96 1552.78 L763.03 1552.97 L763.03 1553.94 L759.95 1553.94 L759.95 1554.9 L751.27 1554.9 L751.27 1553.94 L748.18 1553.94 L748.18 1552.97 L745.29 1552.97 L745.29 1550.85 L744.32 1550.85 L744.13 1548.92 L742.2 1547.76 L742.2 1545.83 L740.27 1544.68 L740.27 1537.93 L739.31 1537.73 L739.31 1531.75 L738.15 1531.75 L738.15 1523.07 L739.31 1522.88 L739.31 1517.09 L740.27 1516.9 L740.27 1510.15 L742.2 1508.99 L742.2 1507.06 L743.16 1506.87 L743.16 1505.13 L744.13 1504.94 L744.32 1503.01 L745.29 1502.82 L745.29 1501.08 L748.18 1500.89 L748.37 1499.92 L751.27 1499.92 L751.27 1498.96 L753.2 1498.96Z M753.2 1504.94 L757.05 1504.94 L757.25 1505.9 L759.18 1506.1 L759.18 1506.87 L761.1 1507.06 L764.19 1510.15 L764.19 1511.88 L765.16 1512.08 L765.16 1517.67 L766.31 1518.06 L766.31 1536.96 L765.35 1537.15 L765.16 1542.75 L764.19 1542.94 L764.19 1544.68 L761.1 1547.76 L759.18 1547.96 L758.98 1548.92 L751.27 1548.92 L751.07 1547.96 L749.14 1547.76 L749.14 1546.8 L746.06 1543.71 L746.06 1536.96 L745.09 1536.77 L745.09 1531.37 L744.13 1531.17 L744.13 1522.88 L745.09 1522.69 L745.09 1516.9 L746.06 1516.71 L746.06 1511.11 L749.14 1508.03 L749.14 1506.87 L751.07 1506.68 L751.27 1505.9 L753.2 1505.9Z"/><path fill-rule="evenodd" d="M784.85 1543.95 L789.25 1543.95 L792.35 1546.88 L792.35 1552.07 L789.25 1555 L784.85 1555 L781.75 1552.07 L781.75 1546.88Z"/><path fill-rule="evenodd" d="M818.02 1498 L819.95 1498 L819.95 1498.96 L822.85 1498.96 L823.04 1499.92 L825.93 1499.92 L825.93 1500.89 L827.86 1501.08 L833.07 1506.29 L833.07 1508.03 L834.04 1508.22 L834.04 1512.85 L835 1513.04 L835 1537.73 L834.04 1537.93 L834.04 1543.71 L833.07 1543.91 L833.07 1545.83 L832.11 1545.83 L832.11 1547.76 L831.14 1547.76 L829.98 1549.89 L829.98 1550.85 L829.02 1550.85 L827.86 1552.78 L825.93 1552.97 L825.93 1553.94 L822.85 1553.94 L822.85 1554.9 L813.2 1554.9 L813.2 1553.94 L811.08 1553.94 L811.08 1552.97 L808.19 1552.97 L808.19 1550.85 L807.22 1550.85 L807.03 1548.92 L806.06 1548.73 L806.06 1546.99 L805.1 1546.8 L805.1 1543.91 L810.89 1543.91 L812.04 1545.06 L812.04 1547.76 L813.97 1547.96 L814.17 1548.92 L821.88 1548.92 L822.08 1547.96 L824 1547.76 L827.09 1544.68 L827.09 1542.94 L828.06 1542.75 L828.06 1532.72 L825.93 1532.72 L825.93 1533.68 L823.04 1533.88 L822.85 1534.84 L816.29 1534.84 L816.1 1533.88 L813.2 1533.68 L813.01 1532.91 L810.31 1532.72 L805.1 1527.7 L805.1 1522.88 L804.14 1522.88 L804.14 1518.83 L803.17 1518.64 L803.17 1514.97 L804.14 1514.78 L804.14 1511.11 L805.1 1510.92 L805.1 1507.25 L810.12 1502.43 L810.12 1501.08 L813.01 1500.89 L813.2 1499.92 L816.1 1499.92 L816.1 1498.96 L818.02 1498.96Z M818.99 1504.75 L820.15 1504.94 L820.15 1505.9 L821.88 1506.1 L823.04 1507.83 L825.93 1508.03 L827.09 1508.99 L827.09 1511.88 L828.06 1512.08 L828.25 1514.97 L829.21 1515.16 L829.21 1519.79 L828.25 1519.99 L828.06 1521.92 L827.09 1522.11 L827.09 1524.81 L824.97 1526.93 L823.04 1527.12 L821.88 1528.09 L821.88 1529.05 L817.25 1529.05 L817.06 1528.09 L815.13 1527.9 L813.97 1526.16 L812.04 1525.97 L812.04 1523.07 L811.08 1522.88 L810.89 1521.14 L809.92 1520.95 L809.92 1519.02 L808.96 1518.83 L808.96 1515.94 L809.92 1515.74 L809.92 1514.01 L810.89 1513.81 L811.08 1510.92 L812.04 1510.73 L812.04 1507.83 L815.13 1507.83 L815.13 1506.87 L817.06 1506.68 L818.02 1504.94Z"/><path fill-rule="evenodd" d="M909 1498 L912 1498 L912 1555 L906 1555 L906 1510.7 L903.8 1512.9 L901.8 1514 L897.95 1514 L897.95 1509 L899.9 1509 L902 1507 L909 1499.2Z"/><path fill-rule="evenodd" d="M934.8 1543.95 L939.2 1543.95 L942.3 1546.88 L942.3 1552.07 L939.2 1555 L934.8 1555 L931.7 1552.07 L931.7 1546.88Z"/><path fill-rule="evenodd" d="M954.37 1514.97 L954.37 1510.15 L955.34 1509.96 L955.34 1508.03 L956.3 1507.83 L956.3 1506.1 L957.26 1505.9 L957.26 1504.17 L959.19 1502.43 L959.39 1501.08 L961.32 1500.89 L961.51 1499.92 L963.24 1499.92 L964.4 1498 L974.05 1498 L974.24 1498.96 L976.17 1498.96 L976.36 1499.92 L978.29 1499.92 L981.18 1503.2 L981.38 1504.94 L982.34 1505.13 L982.34 1507.06 L983.31 1507.25 L983.31 1508.99 L984.27 1509.18 L984.27 1517.67 L983.31 1517.86 L983.31 1519.79 L982.34 1519.99 L982.34 1521.72 L981.38 1521.92 L981.18 1523.84 L980.22 1524.04 L980.22 1525.77 L979.26 1525.97 L979.26 1527.7 L977.13 1528.86 L977.13 1530.79 L975.2 1531.75 L974.05 1533.88 L974.05 1534.84 L971.15 1536.96 L971.15 1538.89 L968.45 1540.82 L968.26 1542.75 L965.37 1544.87 L965.17 1546.8 L963.05 1548.92 L986.2 1548.92 L986.2 1554.9 L951.28 1554.9 L951.28 1553.94 L954.18 1550.85 L954.37 1549.89 L958.23 1545.83 L958.42 1544.87 L961.32 1541.98 L961.32 1540.82 L965.37 1536.96 L965.37 1535.8 L969.42 1531.95 L969.42 1530.79 L972.31 1527.9 L972.5 1526.93 L973.28 1525.97 L973.47 1524.62 L974.24 1523.84 L974.43 1522.69 L975.2 1521.92 L975.4 1520.76 L976.17 1519.99 L976.36 1518.64 L977.33 1517.67 L977.33 1516.71 L978.29 1516.51 L978.29 1509.96 L977.33 1509.76 L977.13 1508.03 L973.08 1503.98 L965.37 1503.98 L962.09 1507.06 L962.09 1508.8 L961.12 1508.99 L961.12 1510.92 L960.16 1511.11 L960.16 1514.97Z"/><path fill-rule="evenodd" d="M1065.08 1498 L1068.08 1498 L1068.08 1555 L1062.08 1555 L1062.08 1510.7 L1059.88 1512.9 L1057.88 1514 L1054.03 1514 L1054.03 1509 L1055.98 1509 L1058.08 1507 L1065.08 1499.2Z"/><path fill-rule="evenodd" d="M1090.8 1543.95 L1095.2 1543.95 L1098.3 1546.88 L1098.3 1552.07 L1095.2 1555 L1090.8 1555 L1087.7 1552.07 L1087.7 1546.88Z"/><path fill-rule="evenodd" d="M1112.1 1498 L1136.98 1498 L1136.98 1504.94 L1116.92 1504.94 L1116.92 1518.25 L1118.27 1517.09 L1123.1 1517.09 L1123.1 1515.94 L1125.02 1515.94 L1125.02 1517.09 L1128.88 1517.09 L1130.81 1518.06 L1132.93 1518.83 L1135.06 1519.99 L1136.02 1521.72 L1138.14 1522.88 L1139.3 1525 L1140.26 1525.97 L1141.04 1528.09 L1141.23 1531.95 L1142 1532.33 L1142 1539.86 L1141.04 1540.05 L1141.04 1544.68 L1139.11 1545.83 L1138.91 1547.76 L1132.93 1553.74 L1130.81 1554.9 L1126.95 1555.09 L1126.95 1555.87 L1121.17 1555.87 L1121.17 1554.9 L1117.31 1554.9 L1115.19 1553.94 L1113.26 1552.97 L1111.14 1552.01 L1110.17 1550.85 L1110.17 1547.76 L1108.05 1546.61 L1108.05 1541.98 L1112.87 1541.98 L1113.84 1543.13 L1113.84 1545.83 L1114.99 1546.41 L1115.19 1547.76 L1117.12 1548.92 L1119.04 1550.08 L1126.95 1550.08 L1127.15 1548.92 L1129.85 1548.92 L1135.25 1543.91 L1135.25 1540.82 L1136.21 1540.63 L1136.21 1532.14 L1135.25 1531.75 L1135.06 1529.05 L1132.93 1527.32 L1129.85 1523.84 L1128.3 1523.84 L1125.99 1522.88 L1125.99 1521.72 L1120.2 1521.72 L1120.01 1522.88 L1118.08 1522.88 L1117.89 1523.84 L1111.14 1523.84 L1111.14 1510.92 L1112.1 1510.92Z"/><path fill-rule="evenodd" d="M1221 1498 L1224 1498 L1224 1555 L1218 1555 L1218 1510.7 L1215.8 1512.9 L1213.8 1514 L1209.95 1514 L1209.95 1509 L1211.9 1509 L1214 1507 L1221 1499.2Z"/><path fill-rule="evenodd" d="M1246.2 1543.95 L1250.6 1543.95 L1253.7 1546.88 L1253.7 1552.07 L1250.6 1555 L1246.2 1555 L1243.1 1552.07 L1243.1 1546.88Z"/><path fill-rule="evenodd" d="M1276.17 1498.96 L1284.85 1498.96 L1285.04 1499.92 L1287.93 1499.92 L1288.13 1500.89 L1290.06 1501.08 L1290.25 1502.05 L1291.98 1502.05 L1293.14 1503.2 L1293.14 1504.94 L1294.11 1505.13 L1294.11 1507.06 L1295.07 1507.25 L1295.07 1516.71 L1294.11 1516.9 L1294.11 1518.64 L1292.95 1518.83 L1291.98 1520.76 L1291.02 1520.76 L1288.9 1523.46 L1295.07 1529.25 L1295.07 1531.17 L1296.04 1531.37 L1296.04 1533.1 L1297 1533.3 L1297 1545.64 L1296.04 1545.83 L1296.04 1548.73 L1291.98 1552.78 L1290.06 1552.97 L1290.06 1553.94 L1287.93 1553.94 L1287.93 1554.9 L1274.24 1554.9 L1274.04 1553.94 L1272.12 1553.94 L1271.92 1552.97 L1269.22 1552.97 L1266.14 1549.69 L1266.14 1546.99 L1265.17 1546.8 L1265.17 1543.91 L1264.21 1543.71 L1264.21 1535.03 L1265.17 1534.84 L1265.17 1533.1 L1266.14 1532.91 L1266.14 1530.21 L1270.96 1525.77 L1271.15 1524.04 L1272.12 1523.46 L1268.06 1519.79 L1268.06 1516.9 L1267.1 1516.71 L1267.1 1514.97 L1266.14 1514.78 L1266.14 1508.03 L1267.1 1507.83 L1267.1 1506.1 L1268.06 1505.9 L1268.06 1504.17 L1269.03 1503.98 L1269.22 1502.05 L1272.12 1502.05 L1272.12 1501.08 L1274.04 1500.89 L1274.24 1499.92 L1276.17 1499.92Z M1276.17 1504.94 L1283.88 1504.94 L1284.08 1505.9 L1286 1506.1 L1289.09 1508.99 L1289.09 1514.97 L1288.13 1515.16 L1287.93 1516.9 L1284.85 1519.79 L1276.17 1519.79 L1274.04 1517.67 L1274.04 1516.13 L1273.08 1515.94 L1272.89 1514.01 L1271.92 1513.81 L1271.92 1508.99 L1275.2 1505.9 L1276.17 1505.9Z M1279.06 1526.93 L1280.99 1526.93 L1281.18 1527.9 L1283.88 1527.9 L1284.08 1528.86 L1286 1529.05 L1290.06 1533.1 L1290.25 1534.84 L1291.21 1535.03 L1291.21 1544.68 L1287.93 1547.96 L1284.08 1547.96 L1283.88 1548.92 L1277.13 1548.92 L1277.13 1547.96 L1273.08 1547.96 L1270.96 1545.64 L1270.96 1544.68 L1269.99 1543.71 L1269.99 1535.8 L1270.96 1535.61 L1271.15 1533.88 L1271.92 1533.68 L1272.12 1531.95 L1272.89 1531.75 L1273.08 1530.02 L1275.01 1529.82 L1275.2 1528.86 L1277.13 1528.86 L1277.32 1527.9 L1279.06 1527.9Z"/><path fill-rule="evenodd" d="M1368.33 1514.97 L1368.33 1510.15 L1369.3 1509.96 L1369.3 1508.03 L1370.26 1507.83 L1370.26 1506.1 L1371.22 1505.9 L1371.22 1504.17 L1373.15 1502.43 L1373.35 1501.08 L1375.28 1500.89 L1375.47 1499.92 L1377.2 1499.92 L1378.36 1498 L1388.01 1498 L1388.2 1498.96 L1390.13 1498.96 L1390.32 1499.92 L1392.25 1499.92 L1395.14 1503.2 L1395.34 1504.94 L1396.3 1505.13 L1396.3 1507.06 L1397.27 1507.25 L1397.27 1508.99 L1398.23 1509.18 L1398.23 1517.67 L1397.27 1517.86 L1397.27 1519.79 L1396.3 1519.99 L1396.3 1521.72 L1395.34 1521.92 L1395.14 1523.84 L1394.18 1524.04 L1394.18 1525.77 L1393.22 1525.97 L1393.22 1527.7 L1391.09 1528.86 L1391.09 1530.79 L1389.16 1531.75 L1388.01 1533.88 L1388.01 1534.84 L1385.11 1536.96 L1385.11 1538.89 L1382.41 1540.82 L1382.22 1542.75 L1379.33 1544.87 L1379.13 1546.8 L1377.01 1548.92 L1400.16 1548.92 L1400.16 1554.9 L1365.24 1554.9 L1365.24 1553.94 L1368.14 1550.85 L1368.33 1549.89 L1372.19 1545.83 L1372.38 1544.87 L1375.28 1541.98 L1375.28 1540.82 L1379.33 1536.96 L1379.33 1535.8 L1383.38 1531.95 L1383.38 1530.79 L1386.27 1527.9 L1386.46 1526.93 L1387.24 1525.97 L1387.43 1524.62 L1388.2 1523.84 L1388.39 1522.69 L1389.16 1521.92 L1389.36 1520.76 L1390.13 1519.99 L1390.32 1518.64 L1391.29 1517.67 L1391.29 1516.71 L1392.25 1516.51 L1392.25 1509.96 L1391.29 1509.76 L1391.09 1508.03 L1387.04 1503.98 L1379.33 1503.98 L1376.05 1507.06 L1376.05 1508.8 L1375.08 1508.99 L1375.08 1510.92 L1374.12 1511.11 L1374.12 1514.97Z"/><path fill-rule="evenodd" d="M1411.8 1543.95 L1416.2 1543.95 L1419.3 1546.88 L1419.3 1552.07 L1416.2 1555 L1411.8 1555 L1408.7 1552.07 L1408.7 1546.88Z"/><path fill-rule="evenodd" d="M1450.05 1498 L1453.05 1498 L1453.05 1555 L1447.05 1555 L1447.05 1510.7 L1444.85 1512.9 L1442.85 1514 L1439 1514 L1439 1509 L1440.95 1509 L1443.05 1507 L1450.05 1499.2Z"/><path fill-rule="evenodd" d="M1518.27 1514.97 L1518.27 1510.15 L1519.24 1509.96 L1519.24 1508.03 L1520.2 1507.83 L1520.2 1506.1 L1521.16 1505.9 L1521.16 1504.17 L1523.09 1502.43 L1523.29 1501.08 L1525.22 1500.89 L1525.41 1499.92 L1527.14 1499.92 L1528.3 1498 L1537.95 1498 L1538.14 1498.96 L1540.07 1498.96 L1540.26 1499.92 L1542.19 1499.92 L1545.08 1503.2 L1545.28 1504.94 L1546.24 1505.13 L1546.24 1507.06 L1547.21 1507.25 L1547.21 1508.99 L1548.17 1509.18 L1548.17 1517.67 L1547.21 1517.86 L1547.21 1519.79 L1546.24 1519.99 L1546.24 1521.72 L1545.28 1521.92 L1545.08 1523.84 L1544.12 1524.04 L1544.12 1525.77 L1543.16 1525.97 L1543.16 1527.7 L1541.03 1528.86 L1541.03 1530.79 L1539.1 1531.75 L1537.95 1533.88 L1537.95 1534.84 L1535.05 1536.96 L1535.05 1538.89 L1532.35 1540.82 L1532.16 1542.75 L1529.27 1544.87 L1529.07 1546.8 L1526.95 1548.92 L1550.1 1548.92 L1550.1 1554.9 L1515.18 1554.9 L1515.18 1553.94 L1518.08 1550.85 L1518.27 1549.89 L1522.13 1545.83 L1522.32 1544.87 L1525.22 1541.98 L1525.22 1540.82 L1529.27 1536.96 L1529.27 1535.8 L1533.32 1531.95 L1533.32 1530.79 L1536.21 1527.9 L1536.4 1526.93 L1537.18 1525.97 L1537.37 1524.62 L1538.14 1523.84 L1538.33 1522.69 L1539.1 1521.92 L1539.3 1520.76 L1540.07 1519.99 L1540.26 1518.64 L1541.23 1517.67 L1541.23 1516.71 L1542.19 1516.51 L1542.19 1509.96 L1541.23 1509.76 L1541.03 1508.03 L1536.98 1503.98 L1529.27 1503.98 L1525.99 1507.06 L1525.99 1508.8 L1525.02 1508.99 L1525.02 1510.92 L1524.06 1511.11 L1524.06 1514.97Z"/><path fill-rule="evenodd" d="M1561.8 1543.95 L1566.2 1543.95 L1569.3 1546.88 L1569.3 1552.07 L1566.2 1555 L1561.8 1555 L1558.7 1552.07 L1558.7 1546.88Z"/><path fill-rule="evenodd" d="M1601.96 1497.98 L1604.86 1497.98 L1604.86 1536.03 L1613.96 1536.03 L1613.96 1542.94 L1604.86 1542.94 L1604.86 1554.86 L1598.86 1554.86 L1598.86 1542.94 L1577.81 1542.94 L1577.81 1540.46Z M1598.86 1517.7 L1598.86 1536.03 L1587.46 1536.03Z"/><path fill-rule="evenodd" d="M1674.37 1514.97 L1674.37 1510.15 L1675.34 1509.96 L1675.34 1508.03 L1676.3 1507.83 L1676.3 1506.1 L1677.26 1505.9 L1677.26 1504.17 L1679.19 1502.43 L1679.39 1501.08 L1681.32 1500.89 L1681.51 1499.92 L1683.24 1499.92 L1684.4 1498 L1694.05 1498 L1694.24 1498.96 L1696.17 1498.96 L1696.36 1499.92 L1698.29 1499.92 L1701.18 1503.2 L1701.38 1504.94 L1702.34 1505.13 L1702.34 1507.06 L1703.31 1507.25 L1703.31 1508.99 L1704.27 1509.18 L1704.27 1517.67 L1703.31 1517.86 L1703.31 1519.79 L1702.34 1519.99 L1702.34 1521.72 L1701.38 1521.92 L1701.18 1523.84 L1700.22 1524.04 L1700.22 1525.77 L1699.26 1525.97 L1699.26 1527.7 L1697.13 1528.86 L1697.13 1530.79 L1695.2 1531.75 L1694.05 1533.88 L1694.05 1534.84 L1691.15 1536.96 L1691.15 1538.89 L1688.45 1540.82 L1688.26 1542.75 L1685.37 1544.87 L1685.17 1546.8 L1683.05 1548.92 L1706.2 1548.92 L1706.2 1554.9 L1671.28 1554.9 L1671.28 1553.94 L1674.18 1550.85 L1674.37 1549.89 L1678.23 1545.83 L1678.42 1544.87 L1681.32 1541.98 L1681.32 1540.82 L1685.37 1536.96 L1685.37 1535.8 L1689.42 1531.95 L1689.42 1530.79 L1692.31 1527.9 L1692.5 1526.93 L1693.28 1525.97 L1693.47 1524.62 L1694.24 1523.84 L1694.43 1522.69 L1695.2 1521.92 L1695.4 1520.76 L1696.17 1519.99 L1696.36 1518.64 L1697.33 1517.67 L1697.33 1516.71 L1698.29 1516.51 L1698.29 1509.96 L1697.33 1509.76 L1697.13 1508.03 L1693.08 1503.98 L1685.37 1503.98 L1682.09 1507.06 L1682.09 1508.8 L1681.12 1508.99 L1681.12 1510.92 L1680.16 1511.11 L1680.16 1514.97Z"/><path fill-rule="evenodd" d="M1717.9 1543.95 L1722.3 1543.95 L1725.4 1546.88 L1725.4 1552.07 L1722.3 1555 L1717.9 1555 L1714.8 1552.07 L1714.8 1546.88Z"/><path fill-rule="evenodd" d="M1735.1 1498.04 L1769.2 1498.04 L1769.2 1504.04 L1748.2 1554.9 L1742 1554.9 L1742 1553.64 L1762.4 1504.94 L1735.1 1504.94Z"/><path fill-rule="evenodd" d="M879.93 1649.93 L885.98 1649.93 L899.5 1691.8 L912.96 1649.93 L919 1649.93 L901.95 1705.97 L898.07 1705.97Z"/><path fill-rule="evenodd" d="M1089.93 1649.93 L1095.98 1649.93 L1109.5 1691.8 L1122.96 1649.93 L1129 1649.93 L1111.95 1705.97 L1108.07 1705.97Z"/><path fill-rule="evenodd" d="M936.23 1684.96 L944.72 1684.96 L944.89 1685.98 L946.76 1685.98 L954.91 1694.47 L954.91 1697.02 L955.93 1697.19 L955.93 1699.91 L951.01 1699.91 L951.01 1698.04 L949.99 1697.87 L949.99 1694.98 L948.8 1693.96 L946.93 1693.79 L945.91 1691.93 L943.87 1691.76 L943.7 1690.91 L937.08 1690.91 L936.91 1691.76 L933.85 1691.93 L933.85 1693.79 L932.83 1693.96 L932.83 1695.83 L931.81 1696 L931.81 1697.87 L929.95 1698.89 L929.95 1701.78 L928.93 1701.95 L928.76 1704.83 L927.91 1705 L927.91 1716.89 L928.93 1717.06 L928.93 1719.95 L929.95 1720.12 L929.95 1723.86 L931.98 1725.04 L931.98 1726.91 L933.85 1728.1 L933.85 1729.97 L935.89 1730.14 L936.06 1730.99 L945.74 1730.99 L949.99 1726.91 L949.99 1724.88 L951.01 1724.71 L951.01 1721.99 L955.93 1721.99 L955.93 1725.89 L954.91 1726.06 L954.91 1728.78 L948.8 1734.9 L946.93 1735.07 L946.76 1735.91 L934.19 1735.91 L934.02 1734.9 L932.15 1734.9 L926.89 1729.8 L926.89 1726.91 L925.87 1726.91 L925.87 1724.88 L924.85 1724.71 L924.85 1720.97 L924 1720.8 L924 1717.91 L922.98 1717.74 L922.98 1705 L924 1704.83 L924 1701.95 L925.02 1701.78 L925.02 1698.04 L925.87 1697.87 L925.87 1695.83 L926.89 1695.66 L926.89 1692.95 L932.15 1688.02 L933.85 1687.85 L934.02 1687 L935.04 1686.83Z"/><path fill-rule="evenodd" d="M967.94 1684.98 L970.77 1684.98 L985.47 1723.7 L1000.45 1684.98 L1002 1684.98 L1002 1735.86 L997.05 1735.86 L997.05 1709.6 L986.9 1735.86 L984.05 1735.86 L972.9 1707.6 L972.9 1735.86 L967.94 1735.86Z"/><path fill-rule="evenodd" d="M30.02 878.82 L27.98 879.08 L25.18 880.1 L22.39 880.86 L17.04 886.2 L16.03 888.24 L13.99 891.03 L13.99 900.7 L16.03 902.23 L17.04 905.53 L22.39 910.88 L25.18 911.89 L28.24 912.91 L31.29 913.93 L34.09 914.95 L51.89 914.95 L54.69 913.93 L57.49 912.91 L60.03 911.89 L63.59 910.11 L69.95 903.75 L70.97 901.72 L70.97 890.27 L69.95 888.24 L63.59 881.88 L60.03 880.35 L57.74 879.08 L55.1 878.82 L55.1 884.93 L57.74 884.93 L60.54 885.95 L63.59 889.25 L65.12 891.03 L65.12 901.72 L61.81 905.02 L60.03 905.28 L58 906.3 L55.96 906.81 L52.91 908.08 L52.66 909.09 L33.07 909.09 L32.81 908.08 L29.25 907.82 L27.73 906.04 L24.93 905.02 L21.88 903.75 L19.84 900.7 L19.84 892.05 L20.86 891.8 L21.88 889.25 L22.39 887.98 L24.17 885.95 L26.96 885.69 L27.73 884.93 L30.02 884.93Z"/><path fill-rule="evenodd" d="M32.12 649.03 L36.08 649.03 L36.08 648.04 L34.3 646.86 L34.1 645.87 L32.12 643.89 L32.12 635.18 L34.1 633.99 L34.1 632.02 L35.09 631.82 L35.09 630.04 L37.07 629.84 L40.24 626.08 L43.01 625.88 L43.2 625.09 L45.97 624.89 L46.17 624.1 L48.15 623.9 L48.35 623.11 L53.89 623.11 L54.09 624.1 L56.86 624.1 L57.05 625.09 L59.82 625.09 L60.02 626.08 L61.8 626.08 L62 627.07 L63.78 627.07 L65.76 629.05 L66.75 629.05 L69.91 632.21 L69.91 634.19 L70.9 634.39 L70.9 644.48 L69.91 644.68 L69.91 646.66 L67.94 647.85 L67.94 649.03 L87.92 649.03 L87.92 654.77 L32.12 654.77Z M49.14 628.85 L52.9 628.85 L53.1 630.04 L56.86 630.04 L57.05 631.03 L59.82 631.03 L60.02 632.02 L61.8 632.02 L64.97 635.18 L64.97 643.69 L62.99 645.47 L62.79 646.86 L60.81 648.83 L60.81 649.03 L42.21 649.03 L41.03 647.85 L41.03 645.87 L40.04 645.67 L39.84 644.09 L37.86 642.7 L37.86 636.17 L39.84 634.98 L40.04 633.01 L41.03 632.81 L42.02 631.03 L45.78 631.03 L45.97 630.04 L48.94 629.84Z"/><path fill-rule="evenodd" d="M50 858.09 L51.08 858.09 L51.08 855.27 L52.09 855.07 L52.09 852.25 L57.33 847.21 L59.95 847.01 L62.17 845.19 L66.2 844.99 L66.4 843.98 L69.22 843.78 L69.22 842.97 L80.91 842.97 L81.11 843.98 L84.74 843.98 L84.94 844.99 L87.96 844.99 L88.17 846 L90.79 846.2 L92.8 847.21 L99.05 853.45 L99.25 855.27 L100.26 855.47 L100.26 857.28 L100.94 857.48 L100.94 873.81 L50 873.81Z M54.99 868.97 L54.99 859.1 L56.93 857.48 L57.13 855.47 L58.14 853.86 L59.75 853.66 L63.18 850.03 L66.8 849.83 L67.01 848.82 L70.03 848.62 L70.23 847.81 L80.91 847.81 L81.11 848.82 L84.14 849.02 L84.34 850.03 L86.96 850.03 L87.16 851.04 L88.97 851.04 L89.17 852.04 L90.99 852.04 L93.2 853.45 L94.21 854.46 L94.21 856.68 L95.02 857.08 L95.02 868.97Z"/><path fill-rule="evenodd" d="M49.05 827.05 L100.95 827.05 L100.95 831.9 L49.05 831.9Z"/><path fill-rule="evenodd" d="M49.05 785 L54.9 785 L54.9 810.97 L49.05 810.97Z"/><path fill-rule="evenodd" d="M49.05 806.1 L101.05 806.1 L101.05 810.97 L49.05 810.97Z"/><path fill-rule="evenodd" d="M72.1 795.1 L77.9 795.1 L77.9 806.2 L72.1 806.2Z"/><path fill-rule="evenodd" d="M49.05 747 L54.9 747 L54.9 772.9 L49.05 772.9Z"/><path fill-rule="evenodd" d="M49.05 768.06 L101.05 768.06 L101.05 772.9 L49.05 772.9Z"/><path fill-rule="evenodd" d="M72.1 757.1 L77.9 757.1 L77.9 768.2 L72.1 768.2Z"/><path fill-rule="evenodd" d="M14 581.05 L19.86 581.05 L19.86 611 L14 611Z"/><path fill-rule="evenodd" d="M14 605.05 L71 605.05 L71 611 L14 611Z"/><path fill-rule="evenodd" d="M39.15 592 L44.9 592 L44.9 605.2 L39.15 605.2Z"/></g>
</svg>
</body></html>
